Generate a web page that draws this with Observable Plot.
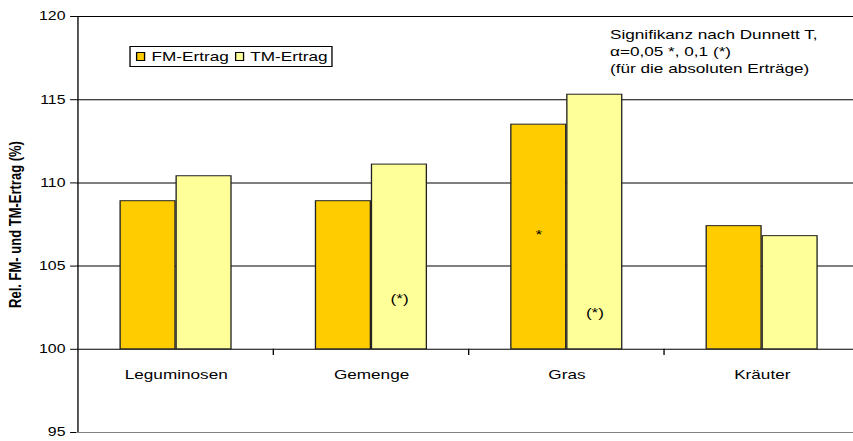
<!DOCTYPE html>
<html>
<head>
<meta charset="utf-8">
<script src="https://cdn.jsdelivr.net/npm/d3@7"></script>
<script src="https://cdn.jsdelivr.net/npm/@observablehq/plot@0.6"></script>
<style>
  html, body { margin: 0; padding: 0; background: #fff; overflow: hidden; }
  #outer { width: 853px; height: 441px; overflow: hidden; position: relative; }
  #wrap { position: absolute; left: 0; top: 0; transform-origin: 0 0; font-family: "Liberation Sans", Arial, sans-serif; color: #000; }
  #wrap svg { max-width: none; display: block; }
  .legend { position: absolute; border: 1px solid #000; box-sizing: border-box; display: flex; align-items: center; font-size: 13px; background: #fff; }
  .sw { display: inline-block; border: 1px solid #000; box-sizing: border-box; }
  .note { position: absolute; font-size: 13px; line-height: 17px; white-space: pre; }
</style>
</head>
<body>
<div id="outer"><div id="wrap"></div></div>
<script>
// ---- data ----
const categories = ["Leguminosen", "Gemenge", "Gras", "Kräuter"];
const seriesNames = ["FM-Ertrag", "TM-Ertrag"];
const fmValues = [108.9, 108.9, 113.5, 107.4];
const tmValues = [110.4, 111.1, 115.3, 106.8];
const baseline = 100;
const yTicks = [95, 100, 105, 110, 115, 120];
const sigCategories = ["Gras", "Gemenge", "Gras"];
const sigSeries = ["FM-Ertrag", "TM-Ertrag", "TM-Ertrag"];
const sigPositions = [106.9, 103.05, 102.2];
const sigTexts = ["*", "(*)", "(*)"];
const noteLines = ["Signifikanz nach Dunnett T,", "\u03B1=0,05 *, 0,1 (*)", "(f\u00FCr die absoluten Ertr\u00E4ge)"];
const yLabel = "Rel. FM- und TM-Ertrag (%)";

// ---- layout ----
const S = 1.32;            // horizontal stretch of the original picture
const W = 654, H = 441;
const ML = 57.6, MR = 0.9, MT = 16, MB = 9;
const padIn = 0.43;
const step = (W - ML - MR) / categories.length;
const bw = step * (1 - padIn);
const colors = {"FM-Ertrag": "#FFCC00", "TM-Ertrag": "#FFFF99"};

const fm = categories.map((c, i) => ({category: c, value: fmValues[i]}));
const tm = categories.map((c, i) => ({category: c, value: tmValues[i]}));
const sig = sigTexts.map((t, i) => ({category: sigCategories[i], series: sigSeries[i], y: sigPositions[i], text: t}));
const gridVals = yTicks.filter(v => v > yTicks[0]);

const chart = Plot.plot({
  width: W, height: H,
  marginLeft: ML, marginRight: MR, marginTop: MT, marginBottom: MB,
  style: {fontFamily: '"Liberation Sans", Arial, sans-serif', fontSize: "13px", background: "#fff", color: "#000", overflow: "visible"},
  x: {type: "band", domain: categories, paddingInner: padIn, paddingOuter: padIn / 2, axis: null},
  y: {domain: [yTicks[0], yTicks[yTicks.length - 1]], axis: null},
  marks: [
    Plot.ruleY(gridVals, {stroke: "#000", strokeWidth: 1}),
    Plot.ruleY([yTicks[0]], {stroke: "#808080", strokeWidth: 1.2}),
    Plot.barY(fm, {x: "category", y1: baseline, y2: "value", fill: colors["FM-Ertrag"], stroke: "#222", strokeWidth: 1, insetRight: bw / 2}),
    Plot.barY(tm, {x: "category", y1: baseline, y2: "value", fill: colors["TM-Ertrag"], stroke: "#222", strokeWidth: 1, insetLeft: bw / 2}),
    // left axis line (band boundary of first category)
    Plot.ruleX([categories[0]], {x: d => d, dx: -step / 2, y1: yTicks[0], y2: yTicks[yTicks.length - 1], stroke: "#000", strokeWidth: 1}),
    // category boundary ticks below the 100 line
    Plot.ruleX(categories.slice(1), {x: d => d, dx: -step / 2, y1: baseline, y2: baseline - 0.38, stroke: "#000", strokeWidth: 1}),
    Plot.axisY({ticks: yTicks, tickSize: 4.5, tickPadding: 4, fontSize: 12, label: null, stroke: "#000"}),
    Plot.text(categories, {x: d => d, y: baseline, dy: 26, fontSize: 13, fill: "#000"}),
    Plot.text(sig.filter(d => d.series === seriesNames[0]), {x: "category", y: "y", text: "text", dx: -bw / 4, fontSize: 13, fill: "#000"}),
    Plot.text(sig.filter(d => d.series === seriesNames[1]), {x: "category", y: "y", text: "text", dx: bw / 4, fontSize: 13, fill: "#000"}),
    Plot.text([yLabel], {frameAnchor: "left", textAnchor: "middle", rotate: -90, dx: -46, fontSize: 13, fontWeight: "bold", fill: "#000"})
  ]
});

const wrap = document.getElementById("wrap");
wrap.style.width = W + "px";
wrap.style.height = H + "px";
wrap.style.transform = `scaleX(${S})`;
wrap.appendChild(chart);

// legend (inside plot area)
const legend = document.createElement("div");
legend.className = "legend";
legend.style.left = (130 / S) + "px";
legend.style.top = "46px";
legend.style.width = ((332 - 130) / S) + "px";
legend.style.height = "21px";
legend.style.paddingLeft = "4px";
seriesNames.forEach((name, i) => {
  const sw = document.createElement("span");
  sw.className = "sw";
  sw.style.width = (9 / S) + "px";
  sw.style.height = "9px";
  sw.style.background = colors[name];
  sw.style.marginLeft = i ? "5px" : "0";
  sw.style.marginRight = "4.5px";
  const t = document.createElement("span");
  t.textContent = name;
  legend.appendChild(sw);
  legend.appendChild(t);
});
wrap.appendChild(legend);

// annotation
const note = document.createElement("div");
note.className = "note";
note.style.left = (610 / S) + "px";
note.style.top = "26px";
note.textContent = noteLines.join("\n");
wrap.appendChild(note);
</script>
</body>
</html>
